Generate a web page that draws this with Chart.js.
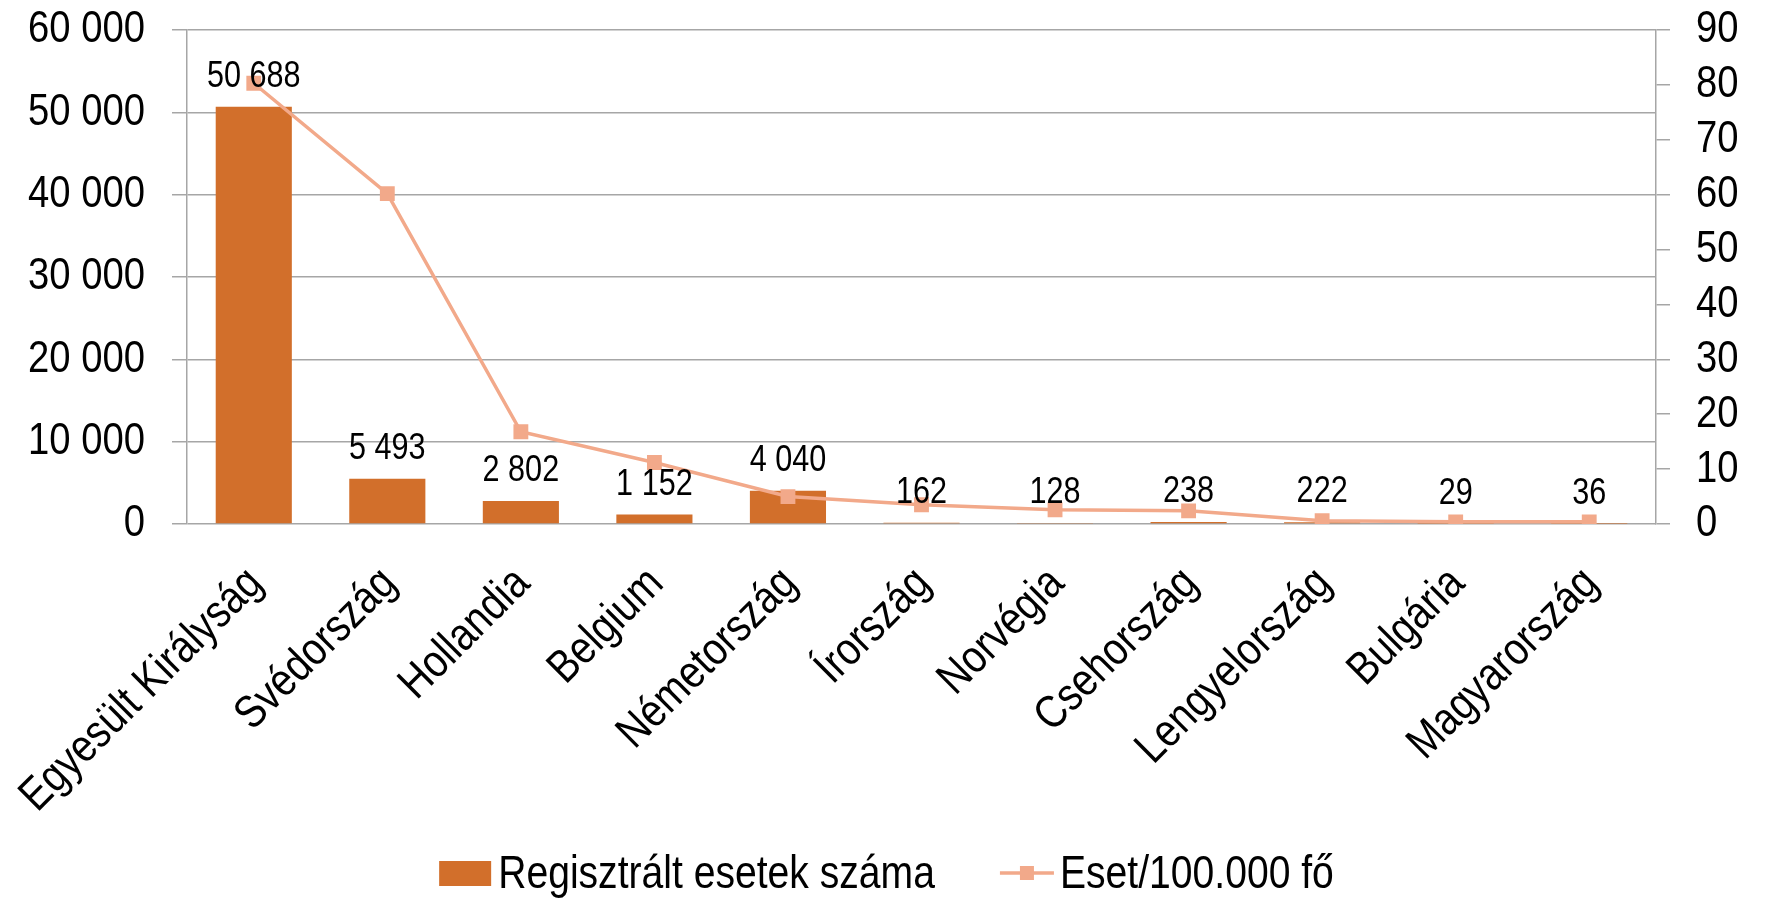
<!DOCTYPE html>
<html>
<head>
<meta charset="utf-8">
<script src="https://cdn.jsdelivr.net/npm/chart.js@4.4.0/dist/chart.umd.min.js"></script>
<style>
  html, body { margin: 0; padding: 0; background: #fff; }
  #wrap { width: 1767px; height: 899px; }
</style>
</head>
<body>
<div id="wrap"><canvas id="grafico" width="1767" height="899"></canvas></div>
<script>
// Adatok
const orszagok = ["Egyesült Királyság", "Svédország", "Hollandia", "Belgium", "Németország", "Írország", "Norvégia", "Csehország", "Lengyelország", "Bulgária", "Magyarország"];
const esetek = [50688, 5493, 2802, 1152, 4040, 162, 128, 238, 222, 29, 36];
const per100ezer = [80.3, 60.2, 16.8, 11.2, 5.0, 3.5, 2.6, 2.4, 0.6, 0.4, 0.4];
const sorozatNevek = ["Regisztrált esetek száma", "Eset/100.000 fő"];
const balTengely = [0, 60000, 10000];   // min, max, lépés
const jobbTengely = [0, 90, 10];

const FONT = '"Liberation Sans", Arial, sans-serif';
const SZUKITES = 0.85; // keskeny betű utánzása (Arial Narrow nincs telepítve)
const BAR_COLOR = "#D26F2B";
const LINE_COLOR = "#F2A98A";
const GRID_COLOR = "#A6A6A6";

// ezres tagolás szóközzel
function tagol(v) {
    return String(v).replace(/\B(?=(\d{3})+(?!\d))/g, " ");
}

const ctx = document.getElementById("grafico").getContext("2d");

// vízszintesen összenyomott szöveg minden kiíráshoz
const eredetiFill = ctx.fillText.bind(ctx);
const eredetiMeasure = ctx.measureText.bind(ctx);
ctx.fillText = function (text, x, y, maxWidth) {
    this.save();
    this.translate(x, y);
    this.scale(SZUKITES, 1);
    eredetiFill(text, 0, 0);
    this.restore();
};
ctx.measureText = function (text) {
    const m = eredetiMeasure(text);
    return { width: m.width * SZUKITES, actualBoundingBoxAscent: m.actualBoundingBoxAscent, actualBoundingBoxDescent: m.actualBoundingBoxDescent };
};

// adatfeliratok az oszlopok fölé
const adatFeliratok = {
    id: "adatFeliratok",
    afterDatasetsDraw(chart) {
        const c = chart.ctx;
        const meta = chart.getDatasetMeta(0);
        c.save();
        c.font = "36px " + FONT;
        c.fillStyle = "#000";
        c.textAlign = "center";
        c.textBaseline = "alphabetic";
        meta.data.forEach((bar, i) => {
            c.fillText(tagol(esetek[i]), bar.x, bar.y - 20);
        });
        c.restore();
    }
};

// jelmagyarázat alul, középen
const jelmagyarazat = {
    id: "jelmagyarazat",
    afterDraw(chart) {
        const c = chart.ctx;
        c.save();
        c.font = "46px " + FONT;
        c.textAlign = "left";
        const w1 = c.measureText(sorozatNevek[0]).width;
        const w2 = c.measureText(sorozatNevek[1]).width;
        const total = 52 + 7 + w1 + 65 + 54 + 6 + w2;
        let x = chart.width / 2 + 3 - total / 2;
        const cy = 873;
        c.fillStyle = BAR_COLOR;
        c.fillRect(x, cy - 12, 52, 25);
        x += 52 + 7;
        c.fillStyle = "#000";
        c.textBaseline = "alphabetic";
        c.fillText(sorozatNevek[0], x, cy + 15);
        x += w1 + 65;
        c.strokeStyle = LINE_COLOR;
        c.lineWidth = 3.5;
        c.beginPath();
        c.moveTo(x, cy);
        c.lineTo(x + 54, cy);
        c.stroke();
        c.fillStyle = LINE_COLOR;
        c.fillRect(x + 20, cy - 7, 14, 14);
        x += 54 + 6;
        c.fillStyle = "#000";
        c.fillText(sorozatNevek[1], x, cy + 15);
        c.restore();
    }
};

new Chart(ctx, {
    data: {
        labels: orszagok,
        datasets: [
            {
                type: "bar",
                label: sorozatNevek[0],
                data: esetek,
                yAxisID: "y",
                backgroundColor: BAR_COLOR,
                barPercentage: 0.57,
                categoryPercentage: 1,
                order: 1
            },
            {
                type: "line",
                label: sorozatNevek[1],
                data: per100ezer,
                yAxisID: "y1",
                borderColor: LINE_COLOR,
                backgroundColor: LINE_COLOR,
                borderWidth: 3.5,
                pointStyle: "rect",
                pointRadius: 10.5,
                pointBorderWidth: 0,
                pointBackgroundColor: LINE_COLOR,
                tension: 0,
                order: 0
            }
        ]
    },
    options: {
        responsive: false,
        animation: false,
        devicePixelRatio: 1,
        layout: { padding: { top: 30, left: 0, right: 0, bottom: 60 } },
        plugins: {
            legend: { display: false },
            tooltip: { enabled: false }
        },
        scales: {
            x: {
                grid: { display: false, drawTicks: false },
                border: { display: false },
                ticks: {
                    color: "#000",
                    font: { family: FONT, size: 46 },
                    maxRotation: 45,
                    minRotation: 45,
                    autoSkip: false,
                    padding: 33,
                    labelOffset: 2
                },
                afterFit(scale) {
                    scale.height = 315;
                    scale.paddingLeft = 0;
                    scale.paddingRight = 0;
                }
            },
            y: {
                position: "left",
                min: balTengely[0],
                max: balTengely[1],
                grid: { color: GRID_COLOR, lineWidth: 1.5, tickLength: 15, drawTicks: true },
                border: { display: true, color: GRID_COLOR, width: 1.5 },
                ticks: {
                    stepSize: balTengely[2],
                    autoSkip: false,
                    color: "#000",
                    font: { family: FONT, size: 45 },
                    padding: 27,
                    callback: (v) => tagol(v)
                },
                afterFit(scale) {
                    scale.width = 187;
                    scale.paddingTop = 0;
                    scale.paddingBottom = 0;
                }
            },
            y1: {
                position: "right",
                min: jobbTengely[0],
                max: jobbTengely[1],
                grid: { drawOnChartArea: false, color: GRID_COLOR, lineWidth: 1.5, tickLength: 14 },
                border: { display: true, color: GRID_COLOR, width: 1.5 },
                ticks: {
                    stepSize: jobbTengely[2],
                    autoSkip: false,
                    color: "#000",
                    font: { family: FONT, size: 45 },
                    padding: 26
                },
                afterFit(scale) {
                    scale.width = 111;
                    scale.paddingTop = 0;
                    scale.paddingBottom = 0;
                }
            }
        }
    },
    plugins: [adatFeliratok, jelmagyarazat]
});
</script>
</body>
</html>
